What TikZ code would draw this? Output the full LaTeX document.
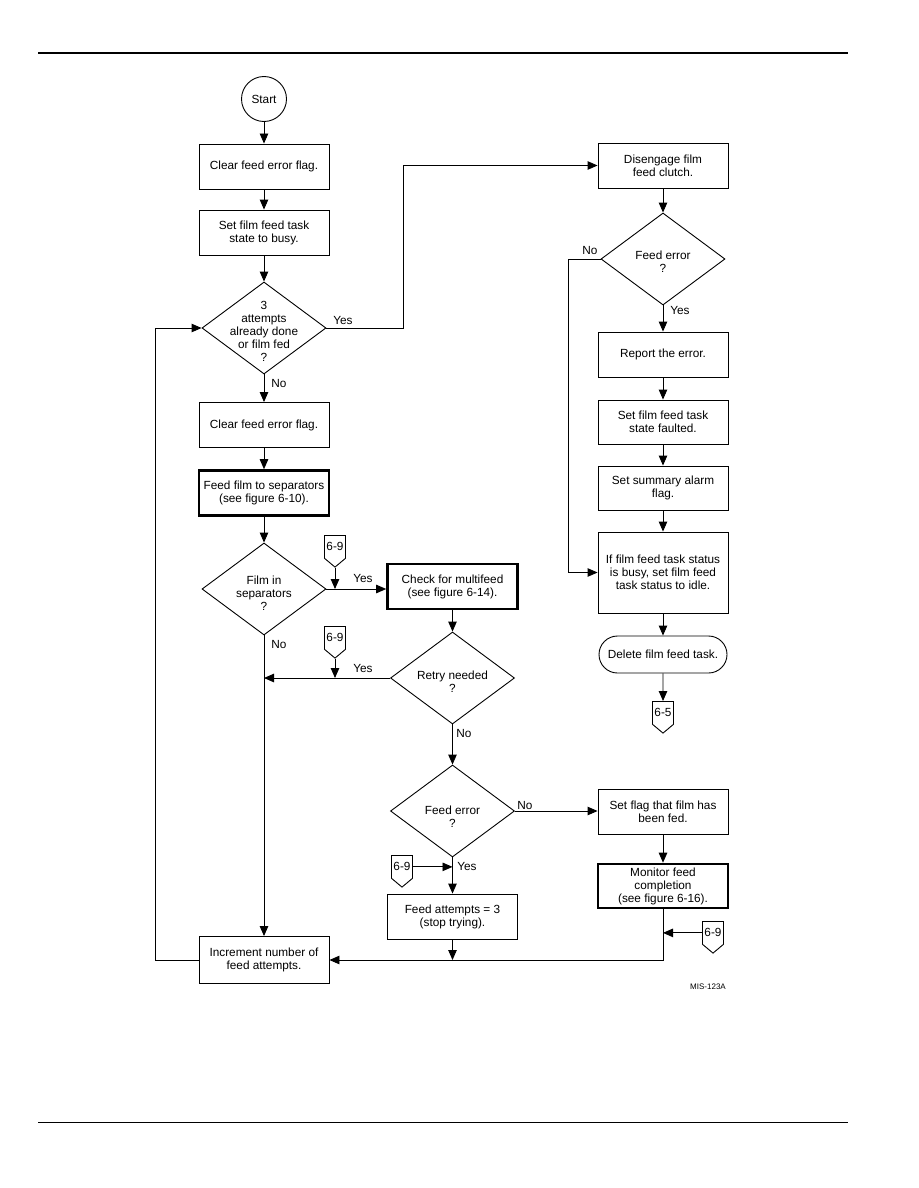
\documentclass[tikz,border=0pt]{standalone}
\usepackage{fontspec}
\setmainfont{Liberation Sans}
\usetikzlibrary{arrows.meta,shapes.geometric,shapes.symbols,shapes.misc}
\begin{document}
\begin{tikzpicture}[x=1pt,y=-1pt,
  every node/.style={font=\fontsize{11.8}{13}\selectfont},
  box/.style={draw,line width=0.9pt,minimum width=130pt,minimum height=45pt,align=center,inner sep=1pt},
  tbox/.style={box,line width=2.6pt},
  dia/.style={draw,diamond,line width=0.9pt,minimum width=124pt,minimum height=92pt,inner sep=0pt},
  dtxt/.style={align=center,inner sep=0pt},
  lab/.style={inner sep=0pt},
  offp/.style={draw,signal,signal to=south,signal pointer angle=100,minimum width=21pt,minimum height=30pt,inner sep=0pt,line width=0.9pt},
  flow/.style={draw,line width=0.9pt,-{Triangle[length=10pt,width=8.5pt]}},
  plain/.style={draw,line width=0.9pt}
]
\useasboundingbox (0,0) rectangle (918,1188);
\fill[white] (0,0) rectangle (918,1188);
\draw[line width=1.8pt] (38,53) -- (848,53);
\draw[line width=0.9pt] (38,1122) -- (848,1122);

% left column
\node[draw,circle,line width=0.9pt,minimum size=45pt,inner sep=0pt] (start) at (264,99) {Start};
\node[box] (b1) at (264,166.5) {Clear feed error flag.};
\node[box] (b2) at (264,232.5) {Set film feed task\\state to busy.};
\node[dia] (d1) at (264,328) {};
\node[dtxt] (d1t) at (264,331) {3\\attempts\\already done\\or film fed\\?};
\node[box] (b3) at (264,425) {Clear feed error flag.};
\node[tbox] (b4) at (264,493) {Feed film to separators\\(see figure 6-10).};
\node[dia] (d2) at (264,589) {};
\node[dtxt] (d2t) at (264,593) {Film in\\separators\\?};
\node[box,minimum height=47pt] (inc) at (264,960) {Increment number of\\feed attempts.};

% middle column
\node[tbox] (chk) at (452.5,586.5) {Check for multifeed\\(see figure 6-14).};
\node[dia] (d3) at (452.5,678) {};
\node[dtxt] (d3t) at (452.5,682) {Retry needed\\?};
\node[dia] (d4) at (452.5,811) {};
\node[dtxt] (d4t) at (452.5,817) {Feed error\\?};
\node[box] (fa) at (452.5,916.5) {Feed attempts = 3\\(stop trying).};

% right column
\node[box] (dis) at (663,165.5) {Disengage film\\feed clutch.};
\node[dia] (d5) at (663,259) {};
\node[dtxt] (d5t) at (663,262) {Feed error\\?};
\node[box] (rep) at (663,354.5) {Report the error.};
\node[box,minimum height=44pt] (flt) at (663,422) {Set film feed task\\state faulted.};
\node[box,minimum height=44pt] (alm) at (663,488) {Set summary alarm\\flag.};
\node[box,minimum height=81pt] (ifb) at (663,572.5) {If film feed task status\\is busy, set film feed\\task status to idle.};
\node[draw,rounded rectangle,line width=0.9pt,minimum width=130pt,minimum height=37pt,inner sep=1pt] (del) at (663,654.5) {Delete film feed task.};
\node[box] (sf) at (663,812) {Set flag that film has\\been fed.};
\node[tbox,minimum height=44pt] (mon) at (663,886) {Monitor feed\\completion\\(see figure 6-16).};

% off-page connectors
\node[offp,anchor=north] (c1) at (335,535) {6-9};
\node[offp,anchor=north] (c2) at (335,626) {6-9};
\node[offp,anchor=north] (c4) at (402,855) {6-9};
\node[offp,anchor=north] (c3) at (713,921) {6-9};
\node[offp,anchor=north] (c5) at (663,701) {6-5};

% labels
\node[lab] (l1) at (343,320) {Yes};
\node[lab] (l2) at (279,383) {No};
\node[lab] (l3) at (363,578) {Yes};
\node[lab] (l4) at (279,644) {No};
\node[lab] (l5) at (363,668) {Yes};
\node[lab] (l6) at (464,733) {No};
\node[lab] (l7) at (525,805) {No};
\node[lab] (l8) at (467,866) {Yes};
\node[lab] (l9) at (590,250) {No};
\node[lab] (l10) at (680,310) {Yes};
\node[lab,font=\fontsize{8}{9}\selectfont] (mis) at (708,987) {MIS-123A};

% coordinates
\coordinate (yr) at (403,328);
\coordinate (j1) at (335,589);
\coordinate (j2) at (264,678);
\coordinate (j3) at (335,678);
\coordinate (jr) at (663,960);
\coordinate (lp) at (155,960);
\coordinate (nr) at (568,259);

% connectors
\draw[flow] (start) -- (b1);
\draw[flow] (b1) -- (b2);
\draw[flow] (b2) -- (d1.north);
\draw[flow] (d1.east) -- (yr) |- (dis.west);
\draw[flow] (d1.south) -- (b3);
\draw[flow] (b3) -- (b4);
\draw[flow] (b4) -- (d2.north);
\draw[flow] (d2.east) -- (d2.east -| chk.west);
\draw[flow] (c1.south) -- (j1);
\draw[flow] (chk.south) -- (d3.north);
\draw[flow] (d3.west) -- (j2);
\draw[flow] (c2.south) -- (j3);
\draw[flow] (d2.south) -- (inc.north);
\draw[flow] (d3.south) -- (d4.north);
\draw[flow] (d4.east) -- (d4.east -| sf.west);
\draw[flow] (sf) -- (mon);
\draw[flow] (mon.south) -- (jr) -- (inc.east);
\draw[flow] (c3.west) -- (mon.south |- c3.west);
\draw[flow] (d4.south) -- (fa.north);
\draw[flow] (c4.east) -- (d4.south |- c4.east);
\draw[flow] (fa.south) -- (fa.south |- jr);
\draw[flow] (inc.west) -- (lp) |- (d1.west);
\draw[flow] (dis) -- (d5.north);
\draw[flow] (d5.west) -- (nr) |- (ifb.west);
\draw[flow] (d5.south) -- (rep.north);
\draw[flow] (rep) -- (flt);
\draw[flow] (flt) -- (alm);
\draw[flow] (alm) -- (ifb);
\draw[flow] (ifb) -- (del);
\draw[flow] (del) -- (c5.north);
\end{tikzpicture}
\end{document}
